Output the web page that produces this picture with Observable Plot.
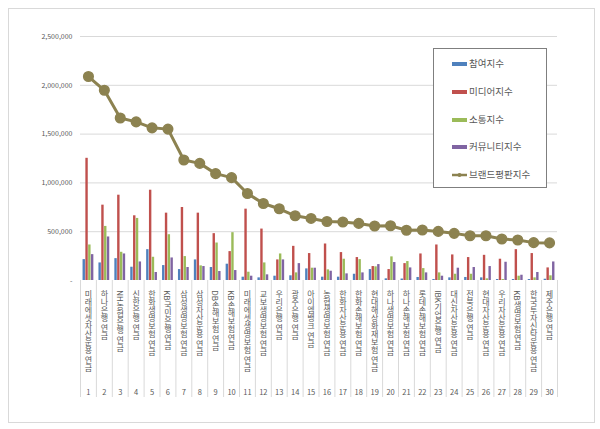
<!DOCTYPE html>
<html><head><meta charset="utf-8">
<script src="https://cdn.jsdelivr.net/npm/d3@7"></script>
<script src="https://cdn.jsdelivr.net/npm/@observablehq/plot@0.6"></script>
<style>
body{margin:0;background:#fff;font-family:"Noto Sans CJK KR","Noto Sans",sans-serif;}
#wrap{position:relative;width:600px;height:429px;}
#border{position:absolute;left:8px;top:8px;width:585px;height:413px;border:1px solid #d9d9d9;pointer-events:none;}
#legend{position:absolute;left:433px;top:48px;width:112px;height:138px;border:1px solid #7f7f7f;background:#fff;font-size:9.5px;color:#595959;}
.li{position:absolute;left:18px;height:12px;line-height:12px;white-space:nowrap;}
.sw{display:inline-block;width:15px;height:4px;vertical-align:middle;margin-right:2px;}
</style>
</head><body>
<div id="wrap"><div id="chart"></div><div id="border"></div><div id="legend"></div></div>
<script>
const categories = ["미래에셋자산운용 연금","하나은행 연금","NH농협은행 연금","신한은행 연금","한화생명보험 연금","KB국민은행 연금","삼성생명보험 연금","삼성자산운용 연금","DB손해보험 연금","KB손해보험 연금","미래에셋생명보험 연금","교보생명보험 연금","우리은행 연금","광주은행 연금","아이엠뱅크 연금","농협생명보험 연금","한화자산운용 연금","한화손해보험 연금","현대해상화재보험 연금","하나생명보험 연금","하나손해보험 연금","롯데손해보험 연금","IBK기업은행 연금","대신자산운용 연금","전북은행 연금","현대자산운용 연금","우리자산운용 연금","KB생명보험 연금","한국투자신탁운용 연금","제주은행 연금"];
const seriesNames = ["참여지수","미디어지수","소통지수","커뮤니티지수"];
const lineName = "브랜드평판지수";
const participation = [214000,180000,224000,136000,316000,153000,112000,211000,133000,167000,34000,27000,44000,48000,119000,34000,34000,64000,112000,17000,15000,31000,10000,27000,31000,27000,10000,10000,10000,13000];
const media = [1252000,772000,874000,663000,925000,690000,748000,690000,480000,296000,731000,527000,211000,350000,276000,374000,286000,235000,143000,112000,173000,272000,364000,262000,235000,258000,218000,316000,276000,129000];
const communication = [364000,554000,289000,636000,238000,469000,245000,150000,384000,490000,85000,180000,272000,78000,126000,109000,218000,214000,140000,242000,194000,122000,78000,64000,64000,17000,10000,44000,27000,48000];
const community = [265000,446000,272000,190000,82000,231000,133000,143000,92000,102000,44000,58000,211000,173000,126000,95000,68000,78000,163000,184000,129000,78000,44000,126000,133000,143000,187000,54000,82000,190000];
const brand = [2090000,1949000,1665000,1625000,1564000,1551000,1235000,1200000,1095000,1054000,891000,789000,735000,663000,636000,605000,599000,585000,558000,561000,515000,517000,503000,483000,459000,459000,425000,415000,388000,385000];
const yTicks = [0,500000,1000000,1500000,2000000,2500000];
const colors = ["#4f81bd","#c0504d","#9bbb59","#8064a2"];
const lineColor = "#8c8250";

const seriesValues = [participation, media, communication, community];
const rows = seriesValues.map((vals, k) => categories.map((c, i) => ({cat: c, idx: i + 1, value: vals[i], series: seriesNames[k]})));
const lineRows = categories.map((c, i) => ({cat: c, idx: i + 1, value: brand[i]}));

const W = 600, H = 429, mL = 80, mR = 43;
const step = (W - mL - mR) / categories.length;
const barW = 2.4, barStep = 2.8;
const font = "Noto Sans CJK KR, Noto Sans, sans-serif";

const marks = [
  Plot.ruleY(yTicks.filter(d => d > 0), {stroke: "#d9d9d9", strokeWidth: 1}),
  Plot.ruleX(categories, {x: d => d, dx: -step / 2, stroke: "#d9d9d9", insetTop: 244}),
  Plot.ruleX(categories.slice(-1), {x: d => d, dx: step / 2, stroke: "#d9d9d9", insetTop: 244}),
  ...rows.map((data, k) => Plot.barY(data, {x: "cat", y: "value", fill: colors[k], dx: (k - 1.5) * barStep, insetLeft: (step - barW) / 2, insetRight: (step - barW) / 2})),
  Plot.line(lineRows, {x: "cat", y: "value", stroke: lineColor, strokeWidth: 3}),
  Plot.dot(lineRows, {x: "cat", y: "value", r: 4.8, fill: lineColor, stroke: lineColor}),
  Plot.text(categories, {x: d => d, y: 0, text: d => d, dy: 4, fill: "#595959", fontSize: 8, fontFamily: font, textAnchor: "start", lineAnchor: "top"}),
  Plot.text(lineRows, {x: "cat", y: 0, text: d => String(d.idx), dy: 112, fill: "#595959", fontSize: 7.5, fontFamily: font})
];

const svg = Plot.plot({
  width: W, height: H,
  marginLeft: mL, marginRight: mR, marginTop: 36, marginBottom: 32,
  style: {fontSize: "7px", fontFamily: font, color: "#595959", background: "transparent"},
  x: {type: "band", domain: categories, padding: 0, round: false, axis: null},
  y: {domain: [0, 2500000], range: [280, 36], ticks: yTicks, tickFormat: d => d === 0 ? "-" : d3.format(",")(d), tickSize: 0, tickPadding: 8, label: null},
  marks
});
const catSet = new Set(categories);
d3.select(svg).selectAll("text").each(function() {
  if (catSet.has(this.textContent)) {
    d3.select(this).attr("writing-mode", "vertical-rl").style("writing-mode", "vertical-rl");
  }
});
document.getElementById("chart").appendChild(svg);

const legend = document.getElementById("legend");
const legendY = [8, 36, 64, 91, 119];
seriesNames.forEach((n, k) => {
  const d = document.createElement("div");
  d.className = "li"; d.style.top = legendY[k] + "px";
  d.innerHTML = `<span class="sw" style="background:${colors[k]}"></span>${n}`;
  legend.appendChild(d);
});
{
  const d = document.createElement("div");
  d.className = "li"; d.style.top = legendY[4] + "px";
  d.innerHTML = `<svg width="17" height="8" style="vertical-align:middle;margin-right:0px"><line x1="0" y1="4" x2="15" y2="4" stroke="${lineColor}" stroke-width="2.5"/><circle cx="7.5" cy="4" r="2" fill="${lineColor}"/></svg>${lineName}`;
  legend.appendChild(d);
}
</script>
</body></html>
